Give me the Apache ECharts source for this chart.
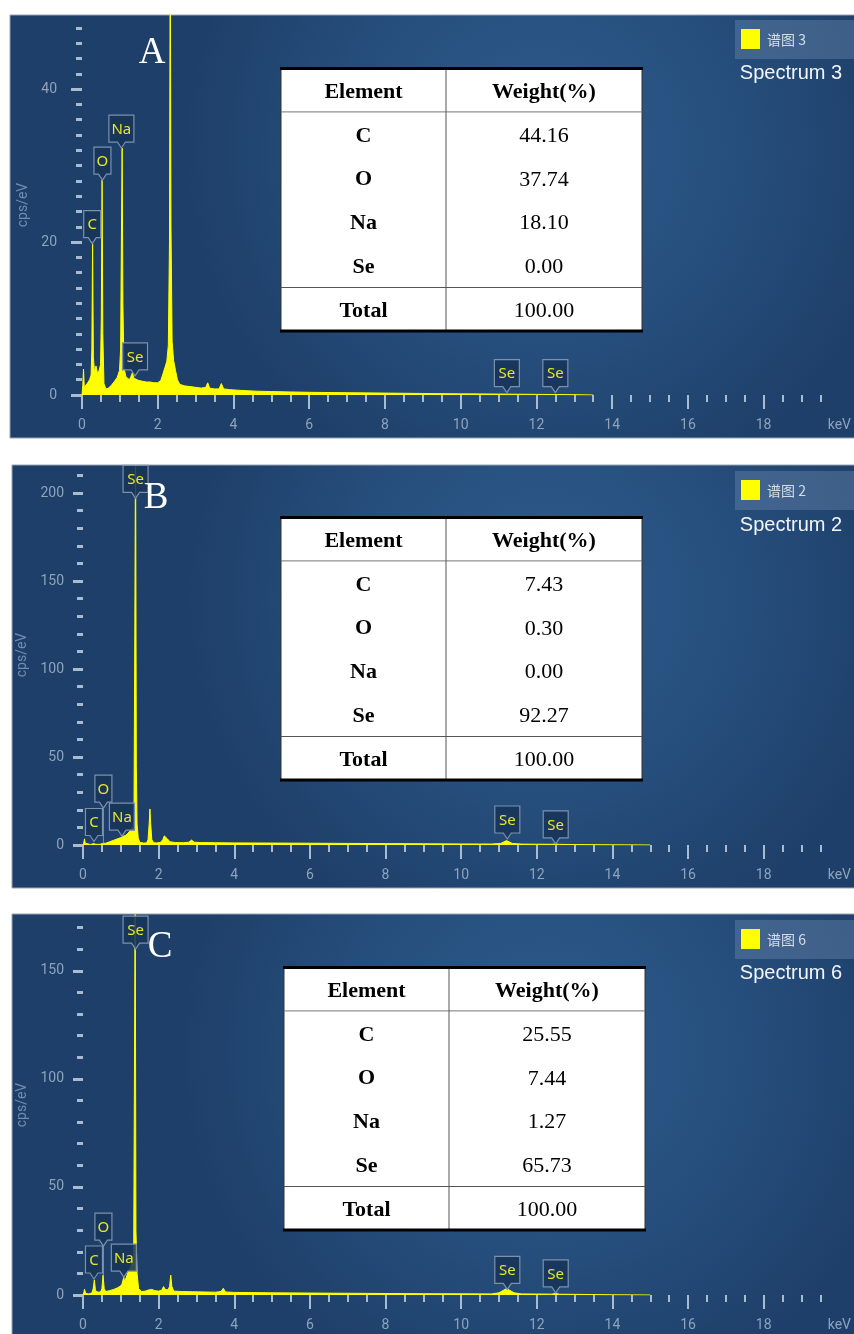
<!DOCTYPE html>
<html>
<head>
<meta charset="utf-8">
<script src="https://cdn.jsdelivr.net/npm/echarts@6/dist/echarts.min.js"></script>
<style>
html,body{margin:0;padding:0;background:#ffffff;}
#c{width:854px;height:1334px;}
</style>
</head>
<body>
<div id="c"></div>
<script>
// ---------------- DATA ----------------
const xTickLabels = ['0','2','4','6','8','10','12','14','16','18','keV'];
const yTicksA = [0, 20, 40];
const yTicksB = [0, 50, 100, 150, 200];
const yTicksC = [0, 50, 100, 150];

const elements = ['C', 'O', 'Na', 'Se'];
const weightsA = [44.16, 37.74, 18.10, 0.00];
const weightsB = [7.43, 0.30, 0.00, 92.27];
const weightsC = [25.55, 7.44, 1.27, 65.73];
const totals = [100.00, 100.00, 100.00];

const panelLetters = ['A', 'B', 'C'];
const legendNames = ['谱图 3', '谱图 2', '谱图 6'];
const spectrumNames = ['Spectrum 3', 'Spectrum 2', 'Spectrum 6'];

// spectrum: [keV, cps/eV]
const spectrumA = [[0,0],[0.02,1.2],[0.04,3.4],[0.06,1.0],[0.1,1.2],[0.15,1.6],[0.2,2.0],[0.24,2.6],[0.26,6],[0.28,19.8],[0.30,5],[0.33,3.0],[0.37,3.8],[0.41,2.8],[0.45,3.2],[0.49,4],[0.51,10],[0.53,28.1],[0.55,8],[0.58,1.5],[0.63,0.8],[0.70,0.9],[0.78,1.3],[0.86,1.8],[0.93,2.3],[0.99,3.2],[1.02,6],[1.04,20],[1.06,32.3],[1.08,12],[1.11,3.5],[1.16,2.4],[1.21,2.6],[1.25,2.0],[1.29,2.4],[1.33,2.9],[1.37,2.2],[1.42,2.0],[1.5,1.9],[1.6,1.8],[1.7,1.7],[1.8,1.7],[1.9,1.6],[2.0,1.6],[2.08,1.9],[2.14,2.8],[2.19,3.6],[2.24,4.4],[2.28,6.5],[2.31,20],[2.33,60],[2.35,22],[2.38,7],[2.42,4.5],[2.47,3.2],[2.52,2.0],[2.58,1.4],[2.7,1.2],[2.85,1.1],[3.0,1.0],[3.15,0.9],[3.27,1.0],[3.32,1.6],[3.37,0.9],[3.5,0.8],[3.62,0.8],[3.68,1.5],[3.74,0.8],[3.9,0.7],[4.2,0.6],[4.6,0.5],[5,0.45],[5.5,0.4],[6,0.35],[7,0.3],[8,0.25],[9,0.2],[10,0.15],[11,0.12],[12,0.08],[12.8,0.05],[13.5,0]];
const spectrumB = [[0,0],[0.02,1.2],[0.04,3.5],[0.06,1.0],[0.1,0.4],[0.2,0.3],[0.28,0.8],[0.34,0.4],[0.45,0.4],[0.52,0.9],[0.6,1.0],[0.7,1.8],[0.8,2.6],[0.9,3.4],[1.0,4.2],[1.06,5],[1.12,5.4],[1.18,6.5],[1.24,8],[1.29,9.5],[1.33,11],[1.35,25],[1.37,120],[1.39,240],[1.41,45],[1.43,12],[1.46,4],[1.5,1.5],[1.6,1.1],[1.68,1.2],[1.72,3],[1.75,12],[1.77,20.5],[1.79,12],[1.82,3],[1.87,1.3],[1.95,1.2],[2.05,1.5],[2.11,3],[2.15,5.2],[2.19,5.7],[2.23,3.5],[2.3,1.8],[2.45,1.4],[2.65,1.3],[2.8,1.6],[2.87,2.8],[2.94,1.6],[3.1,1.4],[3.5,1.3],[4,1.2],[5,1.1],[6,1.0],[7,0.9],[8,0.8],[9,0.7],[10,0.6],[10.8,0.55],[11.05,0.9],[11.2,2.5],[11.35,0.9],[11.6,0.5],[12.0,0.45],[12.4,0.4],[12.5,0.6],[12.6,0.35],[13,0.25],[14,0.1],[15,0]];
const spectrumC = [[0,0],[0.02,1.0],[0.04,2.7],[0.07,0.8],[0.15,0.5],[0.24,1.0],[0.27,3],[0.30,7],[0.33,2],[0.4,1.3],[0.47,1.5],[0.5,3],[0.53,9.2],[0.56,3],[0.6,1.6],[0.7,2.0],[0.8,2.5],[0.9,3.2],[0.98,4],[1.03,5],[1.06,7],[1.08,8.3],[1.1,6],[1.14,8],[1.2,11],[1.26,13],[1.3,15],[1.34,18],[1.36,100],[1.38,190],[1.40,30],[1.43,10],[1.47,3],[1.55,1.6],[1.65,1.8],[1.75,2.4],[1.82,2.6],[1.9,2.0],[2.0,1.8],[2.08,2.2],[2.13,3.9],[2.18,2.5],[2.25,2.4],[2.29,4],[2.32,9.2],[2.35,4],[2.4,1.8],[2.6,1.6],[2.9,1.5],[3.2,1.4],[3.5,1.3],[3.65,1.6],[3.71,3.1],[3.77,1.4],[4,1.2],[4.5,1.1],[5,1.0],[6,0.9],[7,0.8],[8,0.7],[9,0.6],[10,0.55],[10.8,0.5],[11.0,1.0],[11.2,3.0],[11.4,1.0],[11.6,0.5],[12,0.45],[12.4,0.4],[12.5,0.8],[12.6,0.35],[13,0.3],[14,0.1],[15,0]];

// peak labels: [text, keV, peak value, label tip value]
const peakLabelsA = [['C',0.27,19.8,19.8],['O',0.54,28.1,28.1],['Na',1.04,32.3,32.3],['Se',1.40,2.5,2.5],['Se',11.22,0.2,0.3],['Se',12.5,0.1,0.3]];
const peakLabelsB = [['C',0.29,1,2],['O',0.54,1,21],['Na',1.03,5,5],['Se',1.39,197,197],['Se',11.22,2.5,3.4],['Se',12.5,0.4,0.6]];
const peakLabelsC = [['C',0.29,7,7.4],['O',0.54,9.2,22.6],['Na',1.08,8.3,8.3],['Se',1.39,160,160],['Se',11.22,2.5,2.6],['Se',12.5,0.8,1.0]];

// ---------------- LAYOUT ----------------
const panels = [
  {bg:[10,15,860,423], grid:{left:82, top:15, width:764, height:380}, yMax:49.7, yInterval:20, yMinor:10, yTicks:yTicksA,
   yOffset:10, yTickLen:11, yMargin:15, nameGap:38, letter:[152,53], legendTop:20, specY:73, table:[281,68],
   spectrum:spectrumA, labels:peakLabelsA, weights:weightsA},
  {bg:[12,465,860,423], grid:{left:83, top:465, width:764, height:380}, yMax:216, yInterval:50, yMinor:5, yTicks:yTicksB,
   yOffset:9, yTickLen:10, yMargin:10, nameGap:40, letter:[156,498], legendTop:471, specY:525, table:[281,517],
   spectrum:spectrumB, labels:peakLabelsB, weights:weightsB},
  {bg:[12,914,860,430], grid:{left:83, top:915, width:764, height:380}, yMax:175.8, yInterval:50, yMinor:5, yTicks:yTicksC,
   yOffset:9, yTickLen:10, yMargin:10, nameGap:40, letter:[160,947], legendTop:920, specY:973, table:[284,967],
   spectrum:spectrumC, labels:peakLabelsC, weights:weightsC}
];

const tickColor = '#a9bbcf';
const labelColor = '#8ea3bc';
const axisFont = 'Roboto, "Liberation Sans", sans-serif';

const chart = echarts.init(document.getElementById('c'), null, {renderer:'canvas', width:854, height:1334});

const grids = [], xAxes = [], yAxes = [], series = [], graphics = [];

function makeLabelSeries(idx, labels) {
  return {
    type:'custom', xAxisIndex:idx, yAxisIndex:idx, z:5, clip:false, silent:true,
    data: labels.map(l => [l[1], l[2], l[3]]),
    renderItem: function(params, api) {
      const txt = labels[params.dataIndex][0];
      const tip = api.coord([api.value(0), api.value(2)]);
      const peak = api.coord([api.value(0), api.value(1)]);
      const w = 9 + 8 * txt.length, h = 27, p = 6;
      const cx = tip[0], y1 = tip[1] - p, y0 = y1 - h, x0 = cx - w/2, x1 = cx + w/2;
      const children = [];
      if (peak[1] - tip[1] > 2) {
        children.push({type:'line', shape:{x1:cx, y1:tip[1], x2:cx, y2:peak[1]}, style:{stroke:'#7d93ae', lineWidth:1}});
      }
      children.push({type:'polygon', shape:{points:[[x0,y0],[x1,y0],[x1,y1],[cx+4,y1],[cx,tip[1]],[cx-4,y1],[x0,y1]]},
        style:{fill:'rgba(24,52,88,0.88)', stroke:'#7b91ad', lineWidth:1.2}});
      children.push({type:'text', style:{text:txt, x:cx, y:(y0+y1)/2+1, align:'center', verticalAlign:'middle',
        textAlign:'center', textVerticalAlign:'middle', fill:'#e6e62a', font:'15px "Noto Sans", sans-serif'}});
      return {type:'group', children};
    }
  };
}

function textEl(text, x, y, font, fill, align, z) {
  return {type:'text', z:z || 100, silent:true,
    style:{text:text, x:x, y:y, font:font, fill:fill, align:align || 'center', verticalAlign:'middle',
      textAlign:align || 'center', textVerticalAlign:'middle'}};
}

function tableEls(tx, ty, weights, total) {
  const w = 361, rh = 43.9, colX = tx + 165, h = rh * 6;
  const els = [];
  els.push({type:'rect', z:90, silent:true, shape:{x:tx, y:ty, width:w, height:h}, style:{fill:'#ffffff', stroke:'#333', lineWidth:1}});
  const line = (x1,y1,x2,y2,c,lw) => ({type:'line', z:95, silent:true, shape:{x1,y1,x2,y2}, style:{stroke:c, lineWidth:lw}});
  els.push(line(tx, ty+rh, tx+w, ty+rh, '#777', 1));
  els.push(line(tx, ty+5*rh, tx+w, ty+5*rh, '#555', 1));
  els.push(line(colX, ty, colX, ty+h, '#555', 1));
  els.push(line(tx-1, ty+0.5, tx+w+1, ty+0.5, '#000', 3));
  els.push(line(tx-1, ty+h-0.5, tx+w+1, ty+h-0.5, '#000', 3));
  const c1 = (tx + colX) / 2, c2 = (colX + tx + w) / 2;
  const bold = 'bold 22px "Liberation Serif", "Times New Roman", serif';
  const reg = '22px "Liberation Serif", "Times New Roman", serif';
  const cy = i => ty + 2 + rh * (i + 0.5);
  els.push(textEl('Element', c1, cy(0), bold, '#000'));
  els.push(textEl('Weight(%)', c2, cy(0), bold, '#000'));
  elements.forEach((e, i) => {
    els.push(textEl(e, c1, cy(i+1), bold, '#000'));
    els.push(textEl(weights[i].toFixed(2), c2, cy(i+1), reg, '#000'));
  });
  els.push(textEl('Total', c1, cy(5), bold, '#000'));
  els.push(textEl(total.toFixed(2), c2, cy(5), reg, '#000'));
  return els;
}

panels.forEach((p, i) => {
  graphics.push({type:'rect', z:-10, silent:true, shape:{x:p.bg[0], y:p.bg[1], width:p.bg[2], height:p.bg[3]},
    style:{fill:{type:'radial', x:0.62, y:0.32, r:0.85, colorStops:[{offset:0,color:'#2d5b8b'},{offset:0.55,color:'#264e7c'},{offset:1,color:'#1e3f69'}]},
      stroke:'#98a4b2', lineWidth:1}});
  grids.push(Object.assign({containLabel:false}, p.grid));
  xAxes.push({
    gridIndex:i, type:'value', min:0, max:20, interval:2, offset:3,
    axisLine:{show:false},
    axisTick:{show:true, length:14, customValues:[0,2,4,6,8,10,12,14,16,18], lineStyle:{color:tickColor, width:2}},
    minorTick:{show:true, splitNumber:4, length:7, lineStyle:{color:tickColor, width:2}},
    splitLine:{show:false}, minorSplitLine:{show:false},
    axisLabel:{margin:20, color:labelColor, fontSize:14, fontFamily:axisFont, showMaxLabel:true,
      formatter: v => xTickLabels[Math.round(v / 2)]}
  });
  yAxes.push({
    gridIndex:i, type:'value', min:0, max:p.yMax, interval:p.yInterval, offset:p.yOffset,
    axisLine:{show:false},
    axisTick:{show:true, length:p.yTickLen, customValues:p.yTicks, lineStyle:{color:tickColor, width:3}},
    minorTick:{show:true, splitNumber:p.yMinor, length:6, lineStyle:{color:tickColor, width:3}},
    splitLine:{show:false}, minorSplitLine:{show:false},
    axisLabel:{customValues:p.yTicks, margin:p.yMargin, color:labelColor, fontSize:14, fontFamily:axisFont,
      formatter: v => String(v)},
    name:'cps/eV', nameLocation:'middle', nameRotate:90, nameGap:p.nameGap,
    nameTextStyle:{color:'#6f8db0', fontSize:14, fontFamily:axisFont}
  });
  series.push({
    type:'line', xAxisIndex:i, yAxisIndex:i, data:p.spectrum, symbol:'none', showSymbol:false, clip:true, z:3,
    lineStyle:{color:'#ffff00', width:1}, areaStyle:{color:'#ffff00', opacity:1}, silent:true
  });
  series.push(makeLabelSeries(i, p.labels));
  graphics.push(textEl(panelLetters[i], p.letter[0], p.letter[1], '37px "Liberation Serif", "Times New Roman", serif', '#ffffff', 'center', 110));
  graphics.push({type:'rect', z:80, silent:true, shape:{x:735, y:p.legendTop, width:125, height:39}, style:{fill:'rgba(120,150,185,0.35)'}});
  graphics.push({type:'rect', z:81, silent:true, shape:{x:741, y:p.legendTop+9, width:19, height:20}, style:{fill:'#ffff00'}});
  graphics.push(textEl(legendNames[i], 767, p.legendTop+20, '14px "Noto Sans CJK SC", sans-serif', '#d5dde7', 'left', 82));
  graphics.push(textEl(spectrumNames[i], 791, p.specY, '20px "Liberation Sans", Arial, sans-serif', '#f2f5f8', 'center', 82));
  tableEls(p.table[0], p.table[1], p.weights, totals[i]).forEach(e => graphics.push(e));
});

chart.setOption({
  animation:false,
  backgroundColor:'#ffffff',
  grid:grids, xAxis:xAxes, yAxis:yAxes, series:series,
  graphic:{elements:graphics}
});
</script>
</body>
</html>
